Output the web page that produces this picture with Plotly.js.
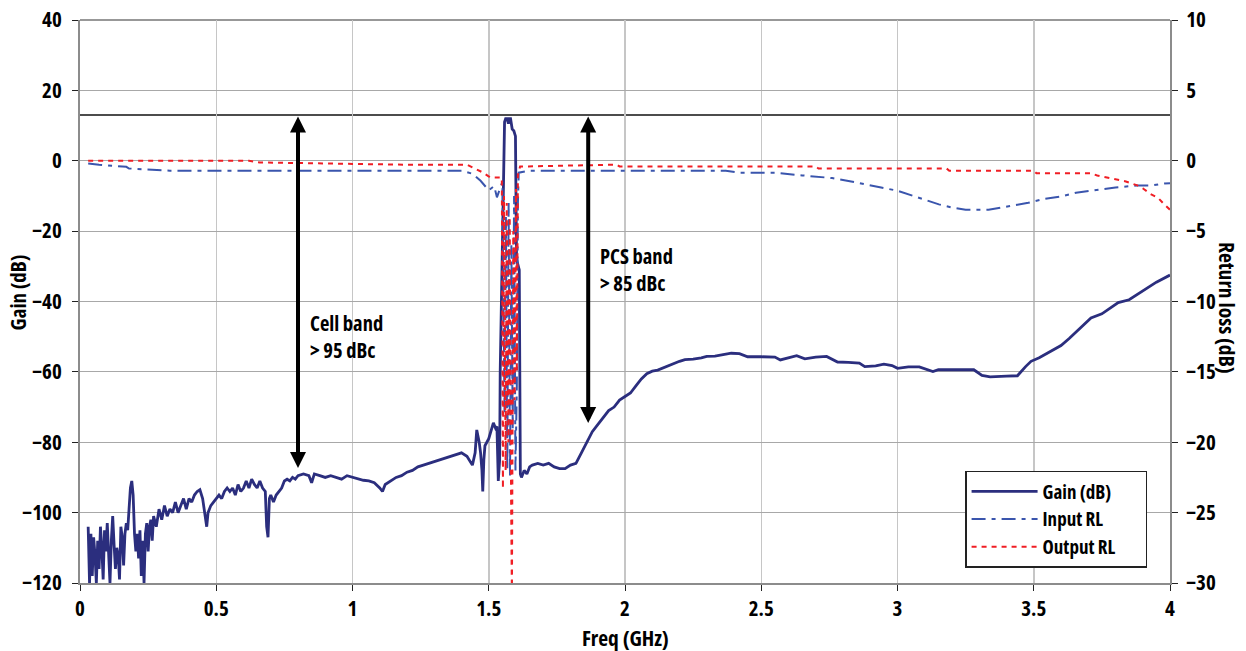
<!DOCTYPE html>
<html>
<head>
<meta charset="utf-8">
<script src="https://cdn.plot.ly/plotly-3.0.1.min.js"></script>
<style>
html,body{margin:0;padding:0;background:#fff;}
#chart{width:1246px;height:651px;}
#chart text{font-stretch:75% !important;}
</style>
</head>
<body>
<div id="chart"></div>
<script>
// ---- Gain (dB), left axis ----
const gainFreq = [0.03,0.035,0.04,0.045,0.05,0.055,0.06,0.065,0.07,0.075,0.08,0.085,0.09,0.095,0.10,0.105,0.11,0.115,0.12,0.125,0.13,0.135,0.14,0.145,0.15,0.155,0.16,0.165,0.17,0.175,0.18,0.185,0.19,0.195,0.20,0.205,0.21,0.215,0.22,0.225,0.23,0.235,0.24,0.245,0.25,0.255,0.26,0.265,0.27,0.28,0.29,0.30,0.31,0.32,0.33,0.34,0.35,0.36,0.37,0.38,0.39,0.40,0.41,0.42,0.43,0.44,0.45,0.46,0.465,0.47,0.48,0.49,0.50,0.51,0.52,0.53,0.54,0.55,0.56,0.57,0.58,0.59,0.60,0.61,0.62,0.63,0.64,0.65,0.66,0.67,0.68,0.685,0.69,0.695,0.70,0.71,0.72,0.73,0.74,0.75,0.76,0.77,0.78,0.79,0.80,0.82,0.84,0.85,0.86,0.88,0.90,0.92,0.94,0.96,0.98,1.00,1.02,1.04,1.06,1.08,1.10,1.11,1.12,1.14,1.16,1.18,1.20,1.22,1.24,1.26,1.28,1.30,1.32,1.34,1.36,1.38,1.40,1.42,1.44,1.45,1.456,1.465,1.47,1.475,1.478,1.482,1.486,1.50,1.51,1.517,1.525,1.53,1.535,1.54,1.542,1.546,1.55,1.555,1.558,1.562,1.568,1.572,1.576,1.58,1.586,1.592,1.598,1.602,1.608,1.612,1.616,1.62,1.63,1.64,1.65,1.66,1.68,1.70,1.72,1.74,1.76,1.78,1.80,1.82,1.84,1.86,1.88,1.90,1.92,1.94,1.96,1.98,2.00,2.02,2.04,2.06,2.08,2.10,2.12,2.15,2.18,2.20,2.22,2.25,2.28,2.30,2.33,2.36,2.39,2.42,2.45,2.50,2.55,2.57,2.60,2.63,2.66,2.70,2.74,2.78,2.82,2.86,2.88,2.92,2.95,2.98,3.00,3.04,3.08,3.11,3.13,3.15,3.20,3.28,3.31,3.34,3.40,3.44,3.47,3.49,3.52,3.56,3.60,3.63,3.67,3.71,3.75,3.78,3.81,3.85,3.90,3.95,4.00];
const gainDb = [-104,-120,-106,-118,-107,-112,-120,-108,-116,-104,-110,-119,-105,-111,-103,-114,-120,-108,-101,-109,-116,-110,-112,-119,-104,-107,-115,-106,-103,-105,-99,-93,-91,-95,-106,-111,-106,-113,-105,-118,-108,-120,-106,-103,-111,-104,-102,-108,-101,-104,-99,-102,-98,-101,-99,-100,-97,-100,-98,-96,-99,-96,-97,-95,-94,-93.5,-96,-101,-104,-100,-98,-97,-96,-95,-96,-94,-93,-94,-93,-95,-92,-94,-93,-91,-93,-90.5,-92,-93,-91,-93,-94,-104,-107,-96,-95,-97,-95,-94,-93,-91,-90.5,-91,-90,-90.5,-89.5,-89,-89.5,-91.5,-89,-89.5,-90,-89.5,-90,-90.5,-89.5,-90,-90.5,-90.8,-91,-91.5,-93,-94,-92,-91,-90,-89.5,-88.5,-88,-87,-86.5,-86,-85.5,-85,-84.5,-84,-83.5,-83,-84,-86.5,-83,-76.5,-80,-83,-88,-94,-85,-81,-79,-76,-74.5,-76,-75.5,-91,-85,-60,-40,-23,-5,11,12,12,10.5,12,12,9,8.5,7,-28,-30,-31,-89,-90,-88,-89,-87,-86.5,-86,-86.5,-86,-87,-87.5,-87.5,-86.5,-86,-83,-80,-77,-75,-73,-71,-70,-68,-67,-66,-64,-62,-60.5,-59.8,-59.5,-58.5,-57.5,-57,-56.5,-56.4,-56,-55.6,-55.5,-55.2,-54.7,-54.8,-55.7,-55.7,-55.8,-56.6,-56,-55.4,-56.3,-55.8,-55.6,-57.2,-57.3,-57.5,-58.5,-58.3,-57.8,-58.2,-59,-58.6,-58.6,-59.5,-59.9,-59.4,-59.4,-59.4,-61,-61.4,-61.2,-61.1,-58.5,-57,-56,-54.2,-52.5,-50.5,-47.5,-44.7,-43.5,-42,-40.3,-39.5,-37,-34.5,-32.5];

// ---- Input RL (dB), right axis ----
const inFreq = [0.03,0.07,0.17,0.18,0.33,1.40,1.44,1.47,1.50,1.52,1.53,1.545,1.55,1.558,1.563,1.568,1.573,1.578,1.583,1.588,1.593,1.598,1.603,1.607,1.61,1.65,2.37,2.42,2.55,2.65,2.76,2.83,2.885,2.94,3.00,3.046,3.095,3.152,3.20,3.25,3.334,3.404,3.48,3.537,3.60,3.655,3.705,3.761,3.80,3.88,3.936,3.98,4.00];
const inRL = [-0.19,-0.28,-0.43,-0.55,-0.71,-0.71,-0.92,-1.42,-2.1,-1.8,-2.6,-1.8,-1.5,-18,-4,-22,-3,-22.5,-6,-19,-2.5,-22,-16,-3,-0.85,-0.71,-0.71,-0.85,-0.85,-1.04,-1.23,-1.47,-1.71,-1.9,-2.13,-2.42,-2.7,-3.1,-3.32,-3.48,-3.48,-3.25,-2.99,-2.72,-2.54,-2.27,-2.13,-1.97,-1.9,-1.75,-1.75,-1.61,-1.6];

// ---- Output RL (dB), right axis ----
const outFreq = [0.03,0.62,0.66,1.19,1.42,1.45,1.48,1.505,1.548,1.552,1.556,1.562,1.566,1.572,1.577,1.582,1.585,1.59,1.595,1.60,1.603,1.607,1.615,1.645,1.97,1.98,2.70,2.71,3.18,3.19,3.50,3.51,3.71,3.733,3.768,3.81,3.838,3.88,3.901,3.929,3.957,3.978,4.00];
const outRL = [0,0,-0.12,-0.28,-0.28,-0.57,-0.85,-1.18,-1.2,-23.3,-2.5,-22,-3,-20,-4,-24,-31,-5,-17,-2,-15,-1,-0.4,-0.4,-0.28,-0.4,-0.4,-0.55,-0.55,-0.71,-0.71,-0.89,-0.89,-1.05,-1.18,-1.38,-1.47,-1.75,-1.97,-2.37,-2.65,-3.08,-3.48];

// ---- Reference level and rejection markers ----
const refLevel = 13;
const markerFreq = [0.80, 1.865];
const markerBottom = [-87.3, -74.5];
const markerLabels = ['Cell band<br>&gt; 95 dBc', 'PCS band<br>&gt; 85 dBc'];
const labelFreq = [0.835, 1.90];
const labelGain = [-50, -31];

const FONT = 'Open Sans, DejaVu Sans Condensed, sans-serif';
const bold = (size) => ({family: FONT, size: size, color: '#000', weight: 'bold'});

const traces = [
  {x: gainFreq, y: gainDb, name: 'Gain (dB)', type: 'scatter', mode: 'lines',
   line: {color: '#2b2e7e', width: 2.8}, yaxis: 'y'},
  {x: inFreq, y: inRL, name: 'Input RL', type: 'scatter', mode: 'lines',
   line: {color: '#3a55ad', width: 2, dash: '14px,6px,4px,6px'}, yaxis: 'y2'},
  {x: outFreq, y: outRL, name: 'Output RL', type: 'scatter', mode: 'lines',
   line: {color: '#f01e24', width: 2, dash: '5px,5px'}, yaxis: 'y2'}
];

const annotations = [];
markerFreq.forEach((f, i) => {
  annotations.push({
    x: f, y: markerBottom[i], ax: f, ay: refLevel, xref: 'x', yref: 'y', axref: 'x', ayref: 'y',
    text: '', showarrow: true, arrowside: 'end+start', arrowhead: 2, startarrowhead: 2,
    arrowwidth: 4, arrowsize: 0.8, startarrowsize: 0.8, arrowcolor: '#000'
  });
  annotations.push({
    x: labelFreq[i], y: labelGain[i], xref: 'x', yref: 'y', text: markerLabels[i],
    showarrow: false, xanchor: 'left', yanchor: 'middle', align: 'left', font: bold(20.5)
  });
});
annotations.push({text: 'Gain (dB)', xref: 'paper', yref: 'paper', x: 0, y: 0.515, xshift: -62,
  textangle: -90, showarrow: false, font: bold(21), xanchor: 'center', yanchor: 'middle'});
annotations.push({text: 'Return loss (dB)', xref: 'paper', yref: 'paper', x: 1, y: 0.49, xshift: 58,
  textangle: 90, showarrow: false, font: bold(21.5), xanchor: 'center', yanchor: 'middle'});
annotations.push({text: 'Freq (GHz)', xref: 'paper', yref: 'paper', x: 0.5, y: 0, yshift: -54,
  showarrow: false, font: bold(21.5), xanchor: 'center', yanchor: 'middle'});

const layout = {
  width: 1246, height: 651,
  margin: {l: 80, r: 76, t: 20, b: 68},
  paper_bgcolor: '#fff', plot_bgcolor: '#fff',
  showlegend: true,
  legend: {x: 0.812, y: 0.199, xanchor: 'left', yanchor: 'top', bgcolor: '#fff',
    bordercolor: '#222', borderwidth: 1.5, font: bold(19), itemwidth: 66, tracegroupgap: 0},
  xaxis: {range: [0, 4], dtick: 0.5, tick0: 0, showgrid: true, gridcolor: '#c6c6c6', gridwidth: 1.5,
    zeroline: false, showline: true, linecolor: '#8c8c8c', linewidth: 2, ticks: 'outside', ticklen: 6,
    tickcolor: '#222', tickfont: bold(21), fixedrange: true},
  yaxis: {range: [-120, 40], dtick: 20, tick0: 0, showgrid: true, gridcolor: '#a8a8a8', gridwidth: 1.2,
    zeroline: false, showline: true, linecolor: '#8c8c8c', linewidth: 2, ticks: 'outside', ticklen: 6,
    tickcolor: '#222', tickfont: bold(21), ticklabelstandoff: 6},
  yaxis2: {range: [-30, 10], dtick: 5, tick0: 0, overlaying: 'y', side: 'right', showgrid: false,
    zeroline: false, showline: true, linecolor: '#8c8c8c', linewidth: 2, ticks: 'outside', ticklen: 6,
    tickcolor: '#222', tickfont: bold(21), ticklabelstandoff: 4},
  shapes: [
    {type: 'line', xref: 'paper', x0: 0, x1: 1, yref: 'y', y0: refLevel, y1: refLevel,
     line: {color: '#111', width: 1.3}, layer: 'below'},
    {type: 'line', xref: 'paper', x0: 0, x1: 1, yref: 'paper', y0: 1, y1: 1,
     line: {color: '#333', width: 1.2}, layer: 'below'}
  ],
  annotations: annotations
};

Plotly.newPlot('chart', traces, layout, {displayModeBar: false, staticPlot: true});
</script>
</body>
</html>
